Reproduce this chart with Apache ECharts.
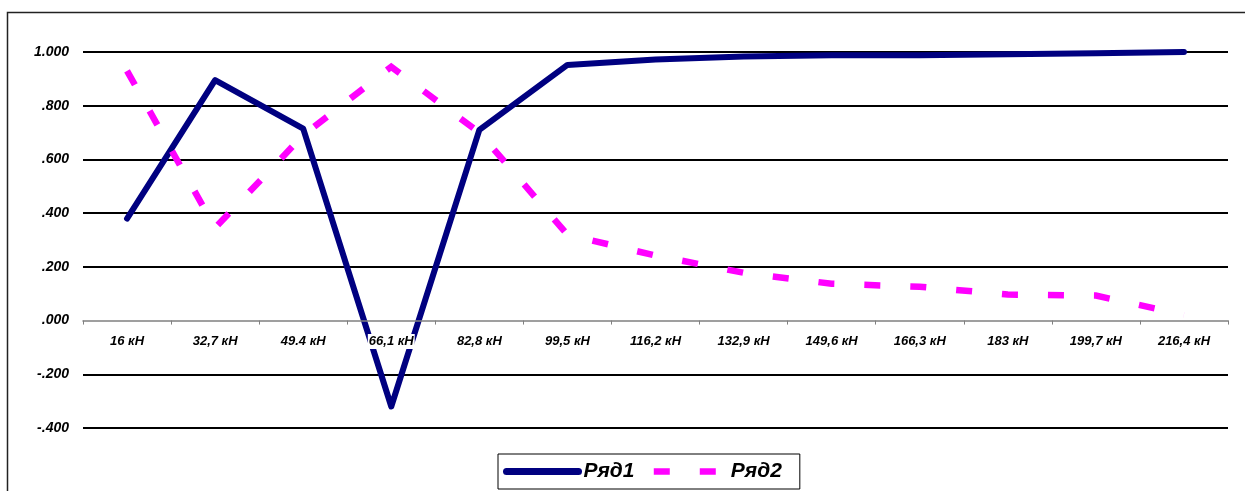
<!DOCTYPE html>
<html>
<head>
<meta charset="utf-8">
<script src="https://cdn.jsdelivr.net/npm/echarts@6/dist/echarts.min.js"></script>
<style>
html,body{margin:0;padding:0;background:#fff;}
#c{width:1245px;height:491px;}
</style>
</head>
<body>
<div id="c"></div>
<script>
var categories = ['16 кН','32,7 кН','49.4 кН','66,1 кН','82,8 кН','99,5 кН','116,2 кН','132,9 кН','149,6 кН','166,3 кН','183 кН','199,7 кН','216,4 кН'];
var ryad1 = [0.38, 0.895, 0.715, -0.32, 0.71, 0.952, 0.972, 0.983, 0.988, 0.988, 0.992, 0.995, 1.0];
var ryad2 = [0.93, 0.345, 0.69, 0.945, 0.70, 0.32, 0.242, 0.178, 0.137, 0.126, 0.097, 0.093, 0.022];
var yTicks = [-0.4, -0.2, 0, 0.2, 0.4, 0.6, 0.8, 1.0];
var yTickLabels = ['-.400', '-.200', '.000', '.200', '.400', '.600', '.800', '1.000'];
var seriesNames = ['Ряд1', 'Ряд2'];

var FONT = "'Liberation Sans', Arial, sans-serif";
var chart = echarts.init(document.getElementById('c'), null, {renderer: 'canvas'});

function yLabel(v) {
  for (var i = 0; i < yTicks.length; i++) {
    if (Math.abs(yTicks[i] - v) < 1e-6) return yTickLabels[i];
  }
  return '';
}

var option = {
  animation: false,
  backgroundColor: '#fff',
  graphic: [{
    type: 'rect',
    shape: {x: 7.5, y: 12.5, width: 1260, height: 500},
    style: {fill: 'none', stroke: '#222', lineWidth: 1.5},
    silent: true, z: -10
  }],
  grid: {left: 83, right: 17, top: 52, bottom: 63, containLabel: false},
  legend: {
    left: 498, top: 454,
    padding: [7, 18, 7, 5],
    borderColor: '#000', borderWidth: 1,
    backgroundColor: '#fff',
    itemWidth: 72, itemHeight: 14,
    itemGap: 16,
    selectedMode: false,
    itemStyle: {opacity: 0},
    textStyle: {fontFamily: FONT, fontSize: 21, fontWeight: 'bold', fontStyle: 'italic', color: '#000', padding: [0, 0, 0, 0]},
    data: [
      {name: seriesNames[0], lineStyle: {cap: 'round', width: 7}},
      {name: seriesNames[1], lineStyle: {width: 6.5, cap: 'butt'}}
    ]
  },
  xAxis: {
    type: 'category',
    data: categories,
    boundaryGap: true,
    z: 3,
    axisLine: {show: true, onZero: true, lineStyle: {color: '#808080', width: 1.5}},
    axisTick: {show: true, length: 4, lineStyle: {color: '#808080', width: 1}},
    axisLabel: {
      margin: -94,
      fontFamily: FONT, fontSize: 13, fontWeight: 'bold', fontStyle: 'italic', color: '#000',
      backgroundColor: '#fff', padding: [1, 1, 1, 1], interval: 0
    },
    splitLine: {show: false}
  },
  yAxis: {
    type: 'value',
    min: -0.4, max: 1.0, interval: 0.2,
    axisLine: {show: false},
    axisTick: {show: false},
    axisLabel: {
      margin: 14,
      fontFamily: FONT, fontSize: 14, fontWeight: 'bold', fontStyle: 'italic', color: '#000',
      formatter: function (v) { return yLabel(v); }
    },
    splitLine: {show: true, lineStyle: {color: ['#000', '#000', 'rgba(0,0,0,0)', '#000', '#000', '#000', '#000', '#000'], width: 2}}
  },
  series: [
    {
      name: seriesNames[0], type: 'line', data: ryad1,
      symbol: 'none', smooth: false, z: 2,
      lineStyle: {color: '#000080', width: 6, join: 'round', cap: 'round'},
      itemStyle: {color: '#000080'}
    },
    {
      name: seriesNames[1], type: 'line', data: ryad2,
      symbol: 'none', smooth: false, z: 2,
      lineStyle: {color: '#FF00FF', width: 6.5, type: [16, 30], dashOffset: 0, cap: 'butt', join: 'miter'},
      itemStyle: {color: '#FF00FF'}
    }
  ]
};
chart.setOption(option);
</script>
</body>
</html>
